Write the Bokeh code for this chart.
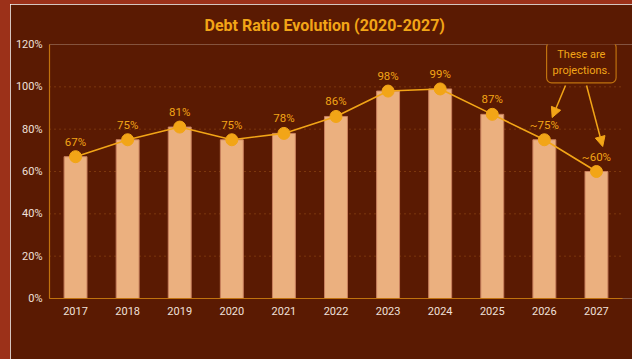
from bokeh.plotting import figure
from bokeh.models import (ColumnDataSource, Range1d, FixedTicker, PrintfTickFormatter,
                          LabelSet, Label, Arrow, NormalHead, Div)
from bokeh.layouts import row, column
from bokeh.embed import file_html
from bokeh.resources import INLINE
from bokeh.core.properties import value

# ---- data ----
years = ["2017", "2018", "2019", "2020", "2021", "2022", "2023", "2024", "2025", "2026", "2027"]
debt_ratio = [67, 75, 81, 75, 78, 86, 98, 99, 87, 75, 60]
point_labels = ["67%", "75%", "81%", "75%", "78%", "86%", "98%", "99%", "87%", "~75%", "~60%"]
y_ticks = [0, 20, 40, 60, 80, 100, 120]
title_text = "Debt Ratio Evolution (2020-2027)"
note_text = "These are\nprojections."
projection_idx = [9, 10]

BG = "#5A1A02"
RED = "#9C3119"
BAR = "#EBB07F"
BAR_EDGE = "#C9805E"
GOLD = "#F2A517"
AXIS = "#C0720E"
GRID = "#9C5418"
TICK_TXT = "#F0E0DA"
FONT = "Roboto"

pos = list(range(len(years)))
src = ColumnDataSource(dict(x=pos, year=years, val=debt_ratio, lab=point_labels))

x_lo = -0.5
x_hi = len(years) - 0.5
p = figure(width=622, height=355, x_range=Range1d(x_lo, x_hi + 0.192),
           y_range=Range1d(0, 120), output_backend="svg", toolbar_location=None,
           min_border_left=39, min_border_right=0, min_border_top=40, min_border_bottom=61,
           title=title_text)
p.background_fill_color = BG
p.border_fill_color = BG
p.outline_line_color = None

p.title.align = "left"
p.title.offset = 155
p.title.standoff = 19
p.title.text_color = GOLD
p.title.text_font_size = "16px"
p.title.text_font_style = "bold"
p.title.text_font = FONT

# dotted horizontal guides at each y tick, limited to the category span
p.xgrid.grid_line_color = None
p.ygrid.grid_line_color = None
gt = y_ticks[1:]
p.segment(x0=[x_lo] * len(gt), x1=[x_hi] * len(gt), y0=gt, y1=gt,
          line_color=GRID, line_dash="1 4", line_width=1, level="underlay")

p.vbar(x="x", top="val", width=0.44, source=src, fill_color=BAR,
       line_color=BAR_EDGE, line_width=1)
p.line(x="x", y="val", source=src, line_color=GOLD, line_width=1.6)
p.scatter(x="x", y="val", source=src, size=12, fill_color=GOLD, line_color=GOLD)

labels = LabelSet(x="x", y="val", text="lab", source=src, y_offset=8,
                  text_align="center", text_baseline="bottom",
                  text_color=GOLD, text_font_size="11.5px", text_font=value(FONT))
p.add_layout(labels)

# axes
p.xaxis.ticker = FixedTicker(ticks=pos)
p.xaxis.major_label_overrides = {i: y for i, y in zip(pos, years)}
p.xaxis.bounds = (x_lo, x_hi)
p.yaxis.ticker = FixedTicker(ticks=y_ticks)
p.yaxis.formatter = PrintfTickFormatter(format="%d%%")
for ax in (p.xaxis[0], p.yaxis[0]):
    ax.axis_line_color = AXIS
    ax.axis_line_width = 1.2
    ax.major_tick_line_color = None
    ax.minor_tick_line_color = None
    ax.major_tick_out = 0
    ax.major_tick_in = 0
    ax.minor_tick_out = 0
    ax.minor_tick_in = 0
    ax.major_label_text_color = TICK_TXT
    ax.major_label_text_font_size = "11px"
    ax.major_label_text_font = FONT
p.yaxis.major_label_standoff = 7
p.xaxis.major_label_standoff = 8

# projection note
note_x = projection_idx[-1] - 0.29
p.add_layout(Label(x=note_x, y=111.5, text=note_text, text_align="center",
                   text_baseline="middle", text_color=GOLD, text_font_size="11px",
                   text_font=FONT, border_line_color=AXIS, border_line_width=1.2,
                   background_fill_color=BG, padding=6, border_radius=5))

arrow_starts = [(9.406, 100.6), (9.81, 100.6)]
arrow_ends = [(projection_idx[0] + 0.15, debt_ratio[projection_idx[0]] + 10.5),
              (projection_idx[1] + 0.12, debt_ratio[projection_idx[1]] + 11.8)]
for (xs, ys), (xe, ye) in zip(arrow_starts, arrow_ends):
    p.add_layout(Arrow(x_start=xs, y_start=ys, x_end=xe, y_end=ye, line_color=GOLD,
                       line_width=1.5,
                       end=NormalHead(size=10, fill_color=GOLD, line_color=GOLD)))

left_bar = Div(width=10, height=359, margin=0, styles={"background-color": RED})
top_bar = Div(width=622, height=4, margin=0, styles={"background-color": RED})
layout = row(column(left_bar, margin=0), column(top_bar, p, margin=0, spacing=0),
             margin=0, spacing=0)

open("out.html", "w").write(file_html(layout, INLINE))
